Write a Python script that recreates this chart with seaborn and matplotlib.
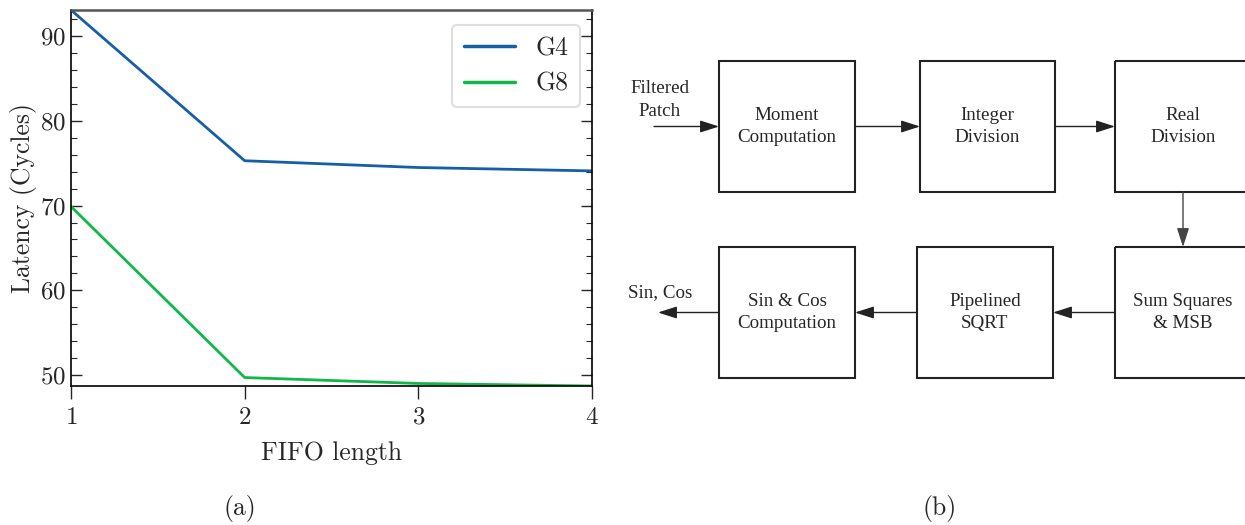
import pandas as pd
import seaborn as sns
import matplotlib.pyplot as plt
from matplotlib.ticker import MultipleLocator
from matplotlib.patches import Rectangle

# Data
fifo_length = [1, 2, 3, 4]
g4_latency = [93.1, 75.3, 74.5, 74.1]
g8_latency = [69.9, 49.7, 49.0, 48.7]
series_names = ['G4', 'G8']

# Block diagram labels (right panel)
top_blocks = ['Moment\nComputation', 'Integer\nDivision', 'Real\nDivision']
bottom_blocks = ['Sin & Cos\nComputation', 'Pipelined\nSQRT', 'Sum Squares\n& MSB']
input_label = 'Filtered\nPatch'
output_label = 'Sin, Cos'

df = pd.DataFrame({
    'FIFO length': fifo_length * 2,
    'Latency': g4_latency + g8_latency,
    'design': [series_names[0]] * 4 + [series_names[1]] * 4,
})

sns.set_style("ticks")
plt.rcParams['font.family'] = ['cmr10', 'DejaVu Serif']
plt.rcParams['axes.formatter.use_mathtext'] = True
plt.rcParams['mathtext.fontset'] = 'cm'

fig = plt.figure(figsize=(12.45, 5.25), dpi=100)

# ---- (a) line plot ----
W, H = 1245, 525
ax = fig.add_axes([71 / W, 1 - 386 / H, (592 - 71) / W, (386 - 10) / H])
sns.lineplot(data=df, x='FIFO length', y='Latency', hue='design',
             palette=['#175ea8', '#10b84a'], linewidth=2, ax=ax)

ax.set_xlim(1, 4)
ax.set_ylim(min(g8_latency), max(g4_latency))
ax.set_xticks(fifo_length)
ax.yaxis.set_major_locator(MultipleLocator(10))
ax.yaxis.set_minor_locator(MultipleLocator(2))
ax.tick_params(axis='y', which='both', direction='in', left=True, right=True,
               labelsize=18)
ax.tick_params(axis='y', which='major', length=8, width=1)
ax.tick_params(axis='y', which='minor', length=4, width=0.8)
ax.tick_params(axis='x', which='major', direction='out', length=9, width=1,
               labelsize=18, pad=6)
ax.set_xlabel('FIFO length', fontsize=18.5, labelpad=9)
ax.set_ylabel('Latency (Cycles)', fontsize=18.5, labelpad=2)
for side in ['left', 'right', 'bottom']:
    ax.spines[side].set_color('black')
    ax.spines[side].set_linewidth(1.2)
ax.spines['top'].set_color('#555555')
ax.spines['top'].set_linewidth(1.8)

leg = ax.legend(loc='upper right', fontsize=18.5, frameon=True, fancybox=True,
                handlelength=2.0, handletextpad=0.8, borderpad=0.45,
                labelspacing=0.45, borderaxespad=0,
                bbox_to_anchor=(0.977, 0.96))
leg.get_frame().set_edgecolor('#d8d8d8')
leg.get_frame().set_linewidth(1.5)
for line in leg.get_lines():
    line.set_linewidth(2.5)

fig.text(240 / W, 1 - 508 / H, '(a)', ha='center', va='center', fontsize=18.5)
fig.text(940 / W, 1 - 508 / H, '(b)', ha='center', va='center', fontsize=18.5)

# ---- (b) block diagram, drawn in pixel units ----
dg = fig.add_axes([0, 0, 1, 1], facecolor='none')
dg.set_xlim(0, W)
dg.set_ylim(H, 0)
dg.axis('off')

box_font = dict(family=['Liberation Serif', 'DejaVu Serif'],
                fontsize=13.7, ha='center', va='center', linespacing=1.4)
top_x = [(719, 855), (920, 1055), (1115, 1251)]
bottom_x = [(719, 855), (917, 1053), (1115, 1251)]
top_y = (61, 192)
bottom_y = (247, 378)


def draw_row(labels, xs, ys):
    for label, (x0, x1) in zip(labels, xs):
        dg.add_patch(Rectangle((x0, ys[0]), x1 - x0, ys[1] - ys[0],
                               fill=False, edgecolor='#222222', linewidth=1.5))
        dg.text((x0 + x1) / 2, (ys[0] + ys[1]) / 2, label, **box_font)


draw_row(top_blocks, top_x, top_y)
draw_row(bottom_blocks, bottom_x, bottom_y)

arrow = dict(arrowstyle='-|>,head_length=1.15,head_width=0.37',
             mutation_scale=10, color='#222222', linewidth=1.0,
             shrinkA=0, shrinkB=0)
yt = (top_y[0] + top_y[1]) / 2
yb = (bottom_y[0] + bottom_y[1]) / 2
dg.annotate('', xy=(top_x[0][0], yt), xytext=(654, yt), arrowprops=arrow)
dg.annotate('', xy=(top_x[1][0], yt), xytext=(top_x[0][1], yt), arrowprops=arrow)
dg.annotate('', xy=(top_x[2][0], yt), xytext=(top_x[1][1], yt), arrowprops=arrow)
xc = (top_x[2][0] + top_x[2][1]) / 2
dg.annotate('', xy=(xc, bottom_y[0]), xytext=(xc, top_y[1]),
            arrowprops=dict(arrow, color='#444444'))
dg.annotate('', xy=(bottom_x[1][1], yb), xytext=(bottom_x[2][0], yb), arrowprops=arrow)
dg.annotate('', xy=(bottom_x[0][1], yb), xytext=(bottom_x[1][0], yb), arrowprops=arrow)
dg.annotate('', xy=(658, yb), xytext=(bottom_x[0][0], yb), arrowprops=arrow)

dg.text(660, 100, input_label, **box_font)
dg.text(660, 293, output_label, **box_font)

plt.savefig('out.png', dpi=100)
